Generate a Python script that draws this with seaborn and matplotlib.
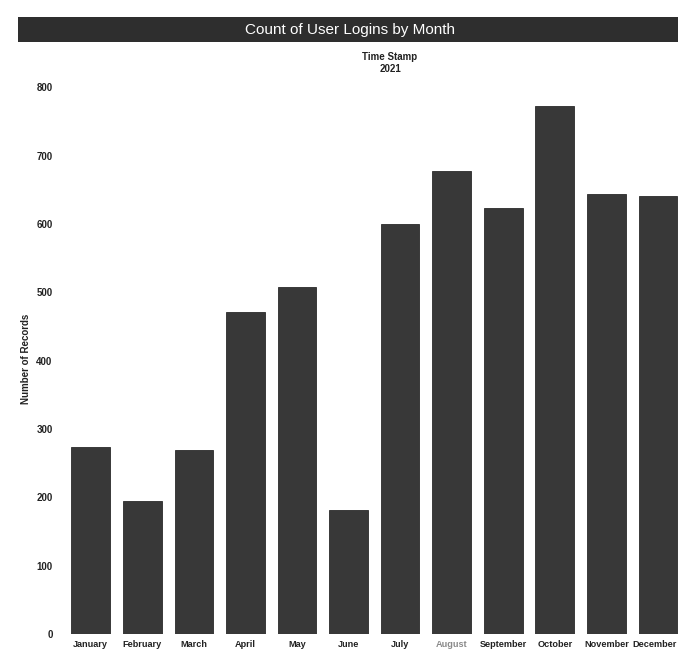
import matplotlib
matplotlib.use("Agg")
import matplotlib.pyplot as plt
from matplotlib.patches import Rectangle
from matplotlib import font_manager
import seaborn as sns
import pandas as pd

months = ["January", "February", "March", "April", "May", "June", "July",
          "August", "September", "October", "November", "December"]
logins = [273, 194, 270, 472, 508, 182, 600, 678, 624, 773, 644, 641]
y_ticks = [0, 100, 200, 300, 400, 500, 600, 700, 800]

df = pd.DataFrame({"Month": months, "Number of Records": logins})

sns.set_theme(style="white")
plt.rcParams["font.family"] = ["Liberation Sans", "DejaVu Sans"]

installed = {f.name for f in font_manager.fontManager.ttflist}
narrow = "Liberation Sans Narrow" if "Liberation Sans Narrow" in installed else "Liberation Sans"
small = dict(family=[narrow, "DejaVu Sans"], fontweight="bold", color="#222222")

W, H = 678, 659
fig = plt.figure(figsize=(W / 100, H / 100), dpi=100)
fig.patch.set_facecolor("white")

# plot area in pixel terms: left 65, right edge of the canvas, y from 84 to 634
ax = fig.add_axes([65 / W, (H - 634) / H, 1 - 65 / W, (634 - 84) / H])
sns.barplot(data=df, x="Month", y="Number of Records", color="#383838",
            width=0.75, saturation=1, ax=ax, edgecolor="#2a2a2a", linewidth=0.6)

ax.set_xlim(-0.5, 11.39)
ax.set_ylim(0, 805)
ax.set_yticks(y_ticks)
ax.set_yticklabels([str(t) for t in y_ticks], fontsize=7, **small)
ax.set_xticks(range(len(months)))
# the last month label is written separately so it can sit a little to the left
ax.set_xticklabels(months[:-1] + [""], fontsize=6.6, **small)
for lbl in ax.get_xticklabels():
    if lbl.get_text() == "August":
        lbl.set_color("#8a8a8a")
ax.annotate(months[-1], xy=(len(months) - 1, 0), xycoords=("data", "axes fraction"),
            xytext=(-3, -6), textcoords="offset pixels", ha="center", va="top",
            fontsize=6.6, annotation_clip=False, **small)
ax.tick_params(axis="both", length=0)
ax.tick_params(axis="y", pad=9)
ax.tick_params(axis="x", pad=4)
ax.set_xlabel("")
ax.set_ylabel("Number of Records", fontsize=7, labelpad=4, **small)
sns.despine(ax=ax, left=True, bottom=True)
ax.grid(False)

# dark title banner
fig.add_artist(Rectangle((18 / W, (H - 42) / H), 1 - 18 / W, 25 / H,
                         transform=fig.transFigure, facecolor="#2e2e2e",
                         edgecolor="none"))
fig.text(350 / W, (H - 30) / H, "Count of User Logins by Month",
         ha="center", va="center", color="white", fontsize=11)
fig.text(390 / W, (H - 57) / H, "Time Stamp", ha="center", va="center",
         fontsize=7, **small)
fig.text(390 / W, (H - 69) / H, "2021", ha="center", va="center",
         fontsize=7, **small)

fig.savefig("out.png", dpi=100, facecolor="white")
